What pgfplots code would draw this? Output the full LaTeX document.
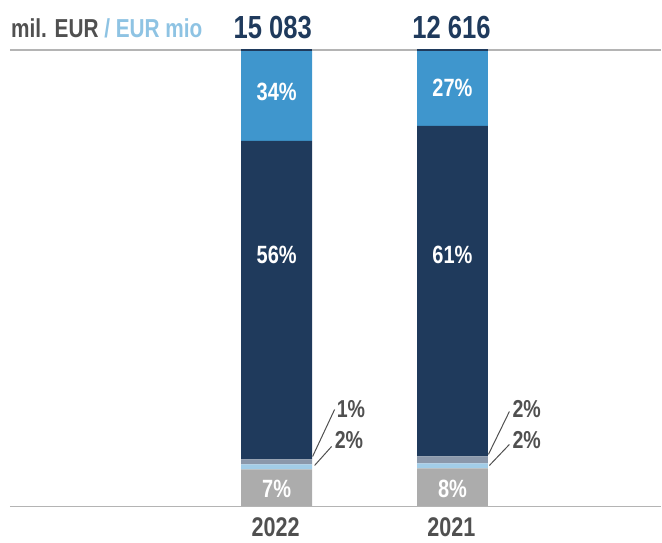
\documentclass[border=0pt]{standalone}
\usepackage{fontspec}
\setmainfont{Liberation Sans}[FakeStretch=0.8]
\usepackage{pgfplots}
\pgfplotsset{compat=1.18}
\definecolor{cblue}{HTML}{3F96CD}
\definecolor{cnavy}{HTML}{1F3A5C}
\definecolor{cbg}{HTML}{8B98AB}
\definecolor{clb}{HTML}{A2CDE8}
\definecolor{cgray}{HTML}{ACACAC}
\definecolor{ctxt}{HTML}{505050}
\definecolor{cunit}{HTML}{8EC3E3}
\definecolor{cline}{HTML}{B4B4B4}
\tikzset{inl/.style={font=\bfseries\fontsize{25}{25}\selectfont, text=white, inner sep=0pt},
  sidel/.style={font=\bfseries\fontsize{24.5}{24.5}\selectfont, text=ctxt, inner sep=0pt, anchor=west}}
\begin{document}
\begin{tikzpicture}
\begin{axis}[
  scale only axis, width=662pt, height=543pt,
  xmin=0, xmax=662, ymin=0, ymax=543,
  hide axis, clip=false,
  ybar stacked, bar width=71,
  every axis plot/.append style={draw=none},
]
\draw[draw=none] (axis cs:0,0) rectangle (axis cs:662,543);
% baseline offset (invisible)
\addplot[fill=none, draw=none] coordinates {(277,36) (453,36)};
\addplot[fill=cgray] coordinates {(277,37) (453,38)};
\addplot[fill=clb] coordinates {(277,5) (453,5)};
\addplot[fill=cbg] coordinates {(277,5) (453,7)};
\addplot[fill=cnavy] coordinates {(277,319) (453,331)};
\addplot[fill=cblue] coordinates {(277,91) (453,76)};
\coordinate (tl) at (axis cs:10,493);
\coordinate (tr) at (axis cs:662,493);
\coordinate (bl) at (axis cs:10,36);
\coordinate (br) at (axis cs:662,36);
\coordinate (n1a) at (axis cs:241.5,493);
\coordinate (n1b) at (axis cs:312.5,493);
\coordinate (n2a) at (axis cs:417.5,493);
\coordinate (n2b) at (axis cs:488.5,493);
\coordinate (unit) at (axis cs:11,515);
\coordinate (t1) at (axis cs:273,515);
\coordinate (t2) at (axis cs:452,515);
\coordinate (a1) at (axis cs:277,451);
\coordinate (a2) at (axis cs:277,288);
\coordinate (a3) at (axis cs:277,54);
\coordinate (b1) at (axis cs:453,455);
\coordinate (b2) at (axis cs:453,288);
\coordinate (b3) at (axis cs:453,54);
\coordinate (l1s) at (axis cs:313,86);
\coordinate (l1e) at (axis cs:335,133);
\coordinate (l2s) at (axis cs:315,77);
\coordinate (l2e) at (axis cs:332,96);
\coordinate (l3s) at (axis cs:489,88);
\coordinate (l3e) at (axis cs:510,131);
\coordinate (l4s) at (axis cs:490,77);
\coordinate (l4e) at (axis cs:510,98);
\coordinate (s1) at (axis cs:337,133);
\coordinate (s2) at (axis cs:335,102);
\coordinate (s3) at (axis cs:513,133);
\coordinate (s4) at (axis cs:513,102);
\coordinate (y1) at (axis cs:276,15);
\coordinate (y2) at (axis cs:452,15);
\end{axis}
% horizontal rules
\draw[cline, line width=1.6pt] (tl) -- (tr);
\draw[cline, line width=1.6pt] (bl) -- (br);
\draw[cnavy, line width=1.6pt] (n1a) -- (n1b);
\draw[cnavy, line width=1.6pt] (n2a) -- (n2b);
% unit label
\node[anchor=west, font=\bfseries\fontsize{26}{26}\selectfont, inner sep=0pt] at (unit)
  {\textcolor{ctxt}{mil. EUR} \textcolor{cunit}{/ EUR mio}};
% totals
\node[font=\bfseries\fontsize{32}{32}\selectfont, text=cnavy, inner sep=0pt] at (t1) {15 083};
\node[font=\bfseries\fontsize{32}{32}\selectfont, text=cnavy, inner sep=0pt] at (t2) {12 616};
% in-bar labels
\node[inl] at (a1) {34\%};
\node[inl] at (a2) {56\%};
\node[inl] at (a3) {7\%};
\node[inl] at (b1) {27\%};
\node[inl] at (b2) {61\%};
\node[inl] at (b3) {8\%};
% side labels and leaders
\draw[ctxt, line width=1pt] (l1s) -- (l1e);
\draw[ctxt, line width=1pt] (l2s) -- (l2e);
\draw[ctxt, line width=1pt] (l3s) -- (l3e);
\draw[ctxt, line width=1pt] (l4s) -- (l4e);
\node[sidel] at (s1) {1\%};
\node[sidel] at (s2) {2\%};
\node[sidel] at (s3) {2\%};
\node[sidel] at (s4) {2\%};
% years
\node[font=\bfseries\fontsize{27}{27}\selectfont, text=ctxt, inner sep=0pt] at (y1) {2022};
\node[font=\bfseries\fontsize{27}{27}\selectfont, text=ctxt, inner sep=0pt] at (y2) {2021};
\end{tikzpicture}
\end{document}
